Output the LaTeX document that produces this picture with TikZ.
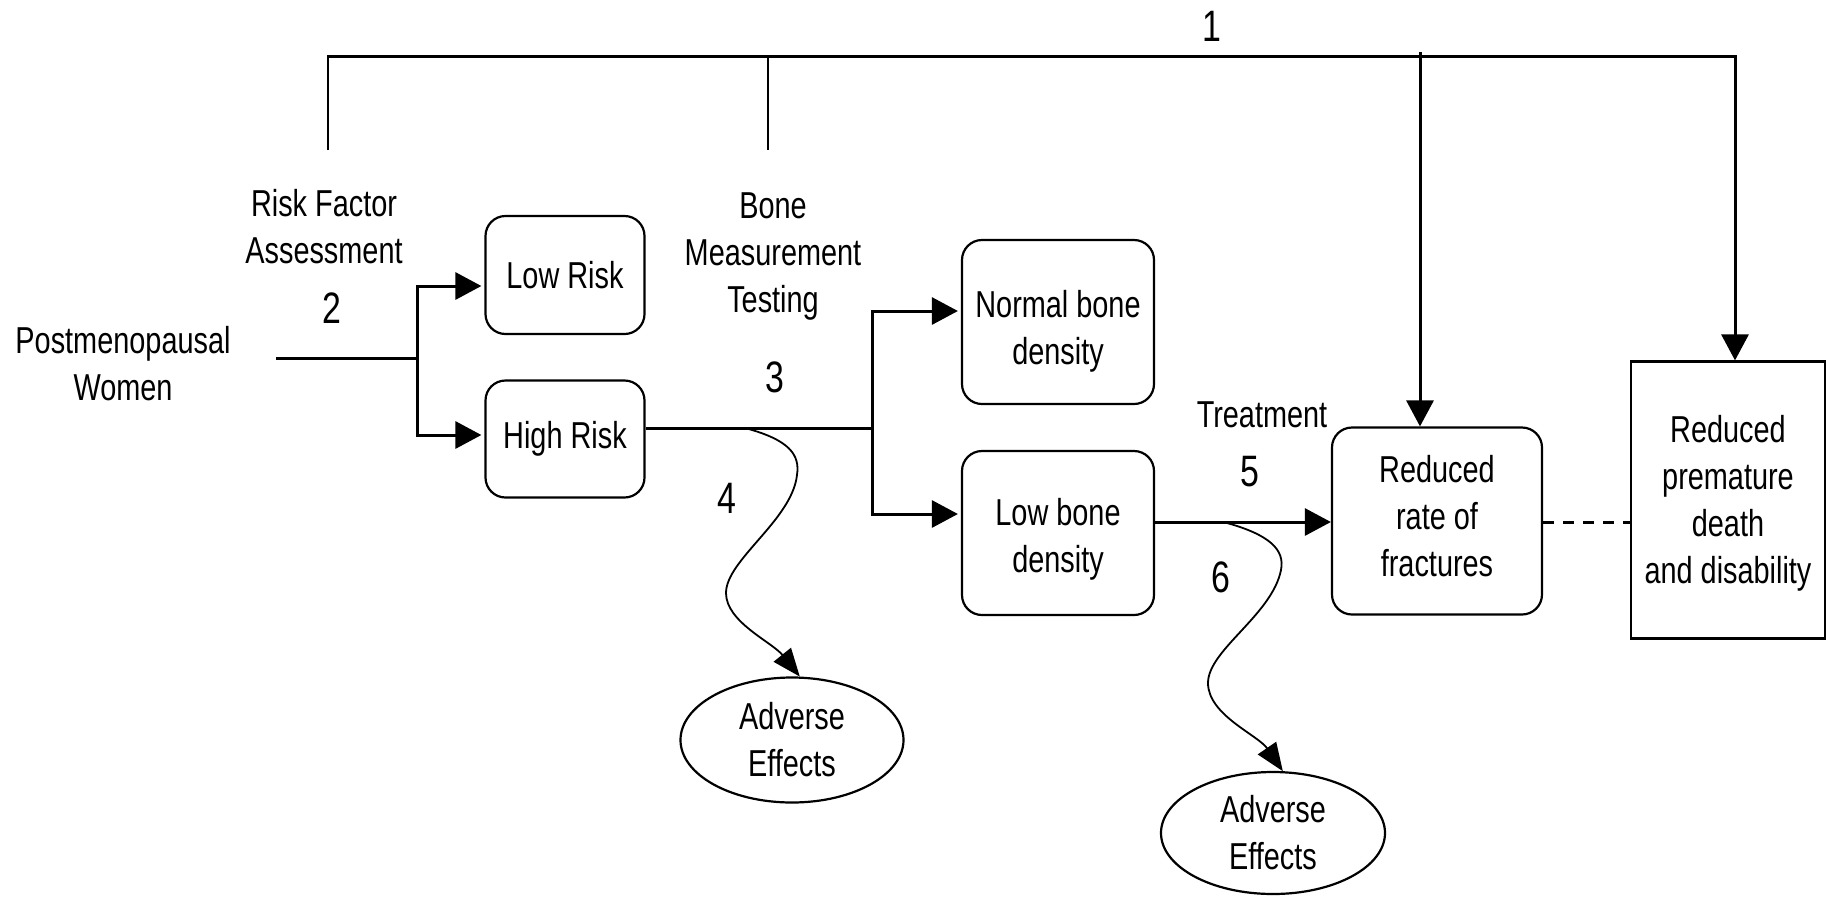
\documentclass[tikz,border=0pt]{standalone}
\usepackage{fontspec}
\setmainfont{Liberation Sans}[FakeStretch=0.77]
\usetikzlibrary{arrows.meta,shapes.geometric}
\begin{document}
\begin{tikzpicture}[x=1pt,y=-1pt,
  txt/.style={font=\fontsize{37.5}{47}\selectfont, align=center, inner sep=0pt},
  num/.style={font=\fontsize{44}{50}\selectfont, inner sep=0pt},
  rbox/.style={draw, line width=2.2pt, rounded corners=20pt, txt},
  sbox/.style={draw, line width=2.2pt, txt},
  oval/.style={draw, ellipse, line width=2.2pt, txt},
  main/.style={line width=3pt},
  thin/.style={line width=2.4pt},
  arr/.style={main, -{Triangle[length=26pt,width=27pt]}},
  wavy/.style={line width=1.8pt, -{Triangle[length=28pt,width=22pt]}},
  dashline/.style={line width=3pt, dash pattern=on 11pt off 9pt}]
\useasboundingbox (0,0) rectangle (1832,898);

% labels
\node[txt] (pw) at (123,364) {Postmenopausal\\Women};
\node[txt] (rfa) at (324,227) {Risk Factor\\Assessment};
\node[num] (n2) at (332,308) {2};
\node[txt] (bmt) at (773,256) {Bone\\Measurement\\Testing};
\node[num] (n3) at (775,377) {3};
\node[num] (n4) at (727,498) {4};
\node[txt] (treat) at (1262,415) {Treatment};
\node[num] (n5) at (1250,472) {5};
\node[num] (n6) at (1221,577) {6};
\node[num] (n1) at (1212,26) {1};

% boxes
\node[rbox, minimum width=159pt, minimum height=118pt] (lr) at (565,275) {Low Risk};
\node[rbox, minimum width=159pt, minimum height=117pt] (hr) at (565,439) {High Risk};
\node[rbox, minimum width=192pt, minimum height=164pt] (nb) at (1058,322) {};
\node[txt] (nbt) at ([yshift=-9pt]nb.center) {Normal bone\\density};
\node[rbox, minimum width=192pt, minimum height=164pt] (lb) at (1058,533) {};
\node[txt] (lbt) at ([yshift=-6pt]lb.center) {Low bone\\density};
\node[rbox, minimum width=210pt, minimum height=187pt] (rr) at (1437,521) {};
\node[txt] (rrt) at ([yshift=5pt]rr.center) {Reduced\\rate of\\fractures};
\node[sbox, minimum width=194pt, minimum height=277pt] (prem) at (1728,500) {};
\node[txt] (premt) at ([yshift=-3pt]prem.center) {Reduced\\premature\\death\\and disability};
\node[oval, minimum width=223pt, minimum height=125pt] (ae1) at (792,740) {Adverse\\Effects};
\node[oval, minimum width=224pt, minimum height=122pt] (ae2) at (1273,833) {Adverse\\Effects};

% coordinates
\coordinate (p0) at (276,358);
\coordinate (j1) at (417,358);
\coordinate (j3) at (872,428);
\coordinate (t1) at (328,56);
\coordinate (t1b) at (328,150);
\coordinate (t2) at (768,56);
\coordinate (t2b) at (768,150);
\coordinate (tr) at (1735,56);
\coordinate (a1) at (1420,52);
\coordinate (w1) at (745,428);
\coordinate (w2) at (1227,523);

% top bar
\draw[thin] (t1b) -- (t1) -- (tr);
\draw[thin] (t2) -- (t2b);
\draw[arr] (t1) -- (tr) -- (prem.north -| tr);
\draw[arr] (a1) -- (rr.north -| a1);

% risk assessment
\draw[main] (p0) -- (j1);
\draw[arr, shorten >=3pt] (j1) |- (lr.west |- 0,286);
\draw[arr, shorten >=3pt] (j1) |- (hr.west |- 0,435);

% bone measurement
\draw[main] (hr.east |- j3) -- (j3);
\draw[arr, shorten >=3pt] (j3) |- (nb.west |- 0,311);
\draw[arr, shorten >=3pt] (j3) |- (lb.west |- 0,514);

% treatment
\draw[arr] (lb.east |- 0,522) -- (rr.west |- 0,522);
\draw[dashline] (rr.east |- 0,522) -- (prem.west |- 0,522);

% adverse effects
\draw[wavy] (w1) .. controls (790,440) and (800,455) .. (797,475)
  .. controls (792,520) and (726,560) .. (726,593)
  .. controls (726,622) and (772,642) .. (ae1.83);
\draw[wavy] (w2) .. controls (1270,535) and (1285,550) .. (1281,570)
  .. controls (1272,615) and (1208,650) .. (1208,683)
  .. controls (1208,715) and (1258,735) .. (ae2.81);
\end{tikzpicture}
\end{document}
